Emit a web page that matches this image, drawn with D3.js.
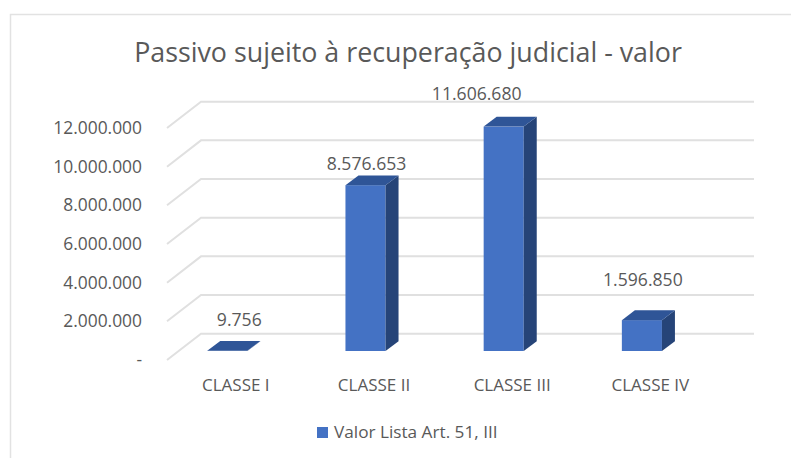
<!DOCTYPE html>
<html>

<head>
  <meta charset="utf-8">
  <title>Passivo sujeito à recuperação judicial</title>
  <script src="https://d3js.org/d3.v7.min.js"></script>
  <style>
    body {
      margin: 0;
      background: #fff;
    }

    text {
      font-family: 'Open Sans', sans-serif;
      fill: #595959;
    }

    .grid {
      fill: none;
      stroke: #e0e0e0;
      stroke-width: 2px;
    }
  </style>
</head>

<body>
  <div id="chart"></div>
  <script>
    const classes = ["CLASSE I", "CLASSE II", "CLASSE III", "CLASSE IV"];
    const valores = [9756, 8576653, 11606680, 1596850];
    const valorLabels = ["9.756", "8.576.653", "11.606.680", "1.596.850"];
    const yTicks = [0, 2000000, 4000000, 6000000, 8000000, 10000000, 12000000];
    const titulo = "Passivo sujeito à recuperação judicial - valor";
    const legenda = "Valor Lista Art. 51, III";

    const width = 791, height = 458;

    // 3d depth of the floor and of the bars
    const floorDx = 34, floorDy = 26.3;
    const barDx = 13, barDy = 9.8;
    const barInset = 9;

    // the value labels were moved by hand in the original, one by one
    const labelShift = {
      "CLASSE I": [12, -25],
      "CLASSE II": [1, -15],
      "CLASSE III": [-27, -27],
      "CLASSE IV": [1, -34]
    };

    const svg = d3.select("#chart")
      .append("svg")
      .attr("width", width)
      .attr("height", height)
      .style("display", "block");

    // chart frame, only top and left are visible in the crop
    svg.append("path")
      .attr("d", "M10.5,458V14.5H791")
      .attr("fill", "none")
      .attr("stroke", "#e2e2e2")
      .attr("stroke-width", 1.5);

    svg.append("text")
      .attr("x", 408)
      .attr("y", 62)
      .attr("text-anchor", "middle")
      .attr("font-size", 26.8)
      .text(titulo);

    const x = d3.scaleBand()
      .domain(classes)
      .range([158.2, 711])
      .paddingInner(0.71)
      .paddingOuter(0.355);
    const y = d3.scaleLinear().domain([0, 12000000]).range([360, 128]);

    const yAxis = d3.axisLeft(y)
      .tickValues(yTicks)
      .tickSize(0)
      .tickFormat(d => d === 0 ? "-" : d3.format(",")(d).replace(/,/g, "."));

    // gridlines, the slanted part goes from the axis to the back wall
    svg.append("g")
      .selectAll("path")
      .data(yTicks)
      .join("path")
      .attr("class", "grid")
      .attr("d", d => d3.line()([
        [167, y(d)],
        [167 + floorDx, y(d) - floorDy],
        [754, y(d) - floorDy]
      ]));

    const axisG = svg.append("g")
      .attr("transform", "translate(145,0)")
      .call(yAxis);
    axisG.select(".domain").remove();
    axisG.selectAll("text")
      .attr("font-size", 17.4)
      .style("font-family", "'Open Sans', sans-serif")
      .attr("fill", "#595959");

    const bars = svg.append("g")
      .selectAll("g")
      .data(classes)
      .join("g");

    const barTop = (i) => y(valores[i]) - barInset;
    const barBase = y(0) - barInset;

    // front face
    bars.append("rect")
      .attr("x", d => x(d))
      .attr("y", (d, i) => barTop(i))
      .attr("width", x.bandwidth())
      .attr("height", (d, i) => barBase - barTop(i))
      .attr("fill", "#4472c4");

    // side face
    bars.append("path")
      .attr("fill", "#264478")
      .attr("d", (d, i) => {
        const r = x(d) + x.bandwidth();
        return d3.line()([
          [r, barTop(i)], [r + barDx, barTop(i) - barDy],
          [r + barDx, barBase - barDy], [r, barBase]
        ]) + "Z";
      });

    // top face
    bars.append("path")
      .attr("fill", "#2f5597")
      .attr("d", (d, i) => {
        const l = x(d), r = l + x.bandwidth();
        return d3.line()([
          [l, barTop(i)], [l + barDx, barTop(i) - barDy],
          [r + barDx, barTop(i) - barDy], [r, barTop(i)]
        ]) + "Z";
      });

    bars.append("text")
      .attr("x", d => x(d) + x.bandwidth() / 2 + labelShift[d][0])
      .attr("y", (d, i) => barTop(i) + labelShift[d][1])
      .attr("text-anchor", "middle")
      .attr("font-size", 17.6)
      .text((d, i) => valorLabels[i]);

    bars.append("text")
      .attr("x", d => x(d) + x.bandwidth() / 2 + 8.5)
      .attr("y", 391)
      .attr("text-anchor", "middle")
      .attr("font-size", 17)
      .text(d => d);

    svg.append("rect")
      .attr("x", 317)
      .attr("y", 427)
      .attr("width", 11)
      .attr("height", 11)
      .attr("fill", "#4472c4");

    svg.append("text")
      .attr("x", 334)
      .attr("y", 438)
      .attr("font-size", 17.2)
      .text(legenda);
  </script>
</body>

</html>
